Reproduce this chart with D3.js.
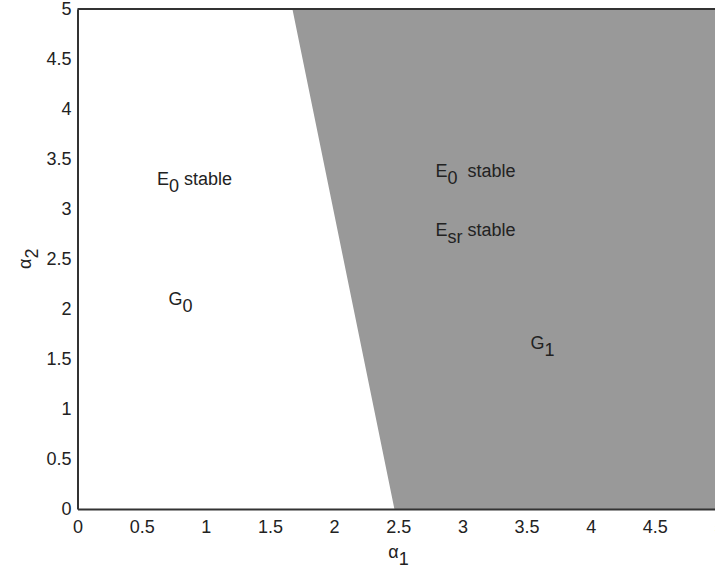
<!DOCTYPE html>
<html>
<head>
<meta charset="utf-8">
<script src="https://cdn.jsdelivr.net/npm/d3@7"></script>
<style>
  html, body { margin: 0; padding: 0; background: #fff; overflow: hidden; }
  text { font-family: "Liberation Sans", Arial, sans-serif; }
</style>
</head>
<body>
<svg id="chart" width="715" height="574"></svg>
<script>
// Axis tick values
const xTicks = [0, 0.5, 1, 1.5, 2, 2.5, 3, 3.5, 4, 4.5, 5];
const yTicks = [0, 0.5, 1, 1.5, 2, 2.5, 3, 3.5, 4, 4.5, 5];

// Stability boundary: alpha1 value on the boundary at each alpha2
const boundaryAlpha2 = [5, 4, 3, 2, 1, 0];
const boundaryAlpha1 = [1.675, 1.834, 1.993, 2.152, 2.311, 2.47];

// Region annotations: main letter, subscript, trailing text, position (alpha1, alpha2)
const labelMain = ["E", "E", "E", "G", "G"];
const labelSub = ["0", "0", "sr", "0", "1"];
const labelTail = [" stable", "  stable", " stable", "", ""];
const labelX = [0.62, 2.79, 2.79, 0.71, 3.53];
const labelY = [3.24, 3.32, 2.73, 2.04, 1.60];

const svg = d3.select("#chart");
const margin = { left: 77.5, top: 9, right: 719, bottom: 509 };

const x = d3.scaleLinear().domain([0, 5]).range([margin.left, margin.right]);
const y = d3.scaleLinear().domain([0, 5]).range([margin.bottom, margin.top]);

// Shaded region G1: right of the boundary
const region = boundaryAlpha2.map((a2, i) => [boundaryAlpha1[i], a2])
  .concat([[5, 0], [5, 5]]);
svg.append("path")
  .attr("d", d3.line().x(d => x(d[0])).y(d => y(d[1]))(region) + "Z")
  .attr("fill", "#999999");

// Axes
const fontSize = 18;
const xAxis = svg.append("g")
  .attr("transform", `translate(0,${margin.bottom})`)
  .call(d3.axisBottom(x).tickValues(xTicks).tickSize(0).tickPadding(11)
        .tickFormat(d3.format("")));
const yAxis = svg.append("g")
  .attr("transform", `translate(${margin.left},0)`)
  .call(d3.axisLeft(y).tickValues(yTicks).tickSize(0).tickPadding(6)
        .tickFormat(d3.format("")));
[xAxis, yAxis].forEach(g => {
  g.select(".domain").attr("stroke", "#333").attr("stroke-width", 2);
  g.selectAll("text").attr("font-size", fontSize).attr("fill", "#222")
    .attr("font-family", "'Liberation Sans', Arial, sans-serif");
});

// Top border
svg.append("line")
  .attr("x1", margin.left).attr("x2", margin.right)
  .attr("y1", margin.top).attr("y2", margin.top)
  .attr("stroke", "#333").attr("stroke-width", 2);

// Region labels with subscripts
labelMain.forEach((m, i) => {
  const t = svg.append("text")
    .attr("x", x(labelX[i])).attr("y", y(labelY[i]))
    .attr("font-size", fontSize).attr("fill", "#222")
    .attr("xml:space", "preserve").style("white-space", "pre");
  t.append("tspan").text(m);
  t.append("tspan").attr("dy", 7).text(labelSub[i]);
  if (labelTail[i]) t.append("tspan").attr("dy", -7).text(labelTail[i]);
});

// Axis titles
const xt = svg.append("text")
  .attr("x", x(2.5) - 10).attr("y", 558)
  .attr("font-size", fontSize).attr("fill", "#222");
xt.append("tspan").text("α");
xt.append("tspan").attr("dy", 7).text("1");

const yt = svg.append("text")
  .attr("transform", `translate(31,${y(2.5) + 10}) rotate(-90)`)
  .attr("font-size", fontSize).attr("fill", "#222");
yt.append("tspan").text("α");
yt.append("tspan").attr("dy", 7).text("2");
</script>
</body>
</html>
